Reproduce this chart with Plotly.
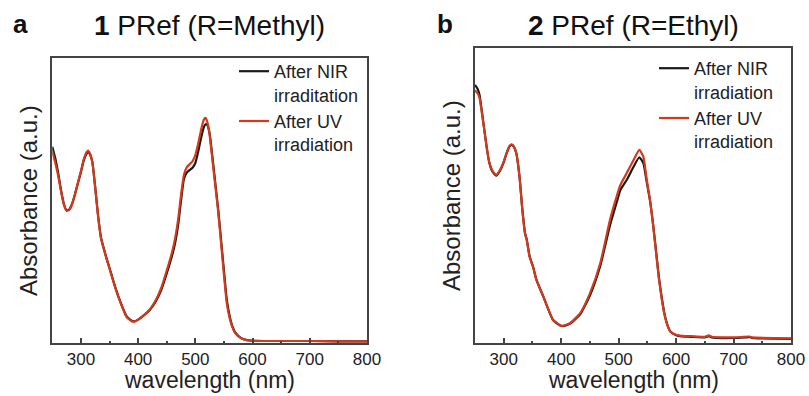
import plotly.graph_objects as go

# ---------------- data ----------------
wl_a = [250, 255, 260, 265, 270, 275, 280, 285, 290, 295, 300, 305, 310, 313, 316, 320,
        325, 330, 335, 340, 345, 350, 360, 370, 380, 390, 395, 400, 410, 420, 430, 440,
        450, 460, 465, 470, 475, 480, 485, 490, 495, 500, 505, 510, 515, 518, 521, 525,
        530, 535, 540, 545, 550, 555, 560, 565, 570, 580, 590, 600, 650, 700, 750, 800]
uv_a = [0.672, 0.635, 0.590, 0.535, 0.488, 0.464, 0.468, 0.490, 0.525, 0.565, 0.603, 0.645,
        0.670, 0.675, 0.665, 0.635, 0.545, 0.445, 0.370, 0.330, 0.295, 0.262, 0.195, 0.138,
        0.092, 0.076, 0.077, 0.083, 0.099, 0.118, 0.148, 0.192, 0.255, 0.325, 0.372, 0.435,
        0.520, 0.590, 0.617, 0.628, 0.638, 0.660, 0.700, 0.748, 0.785, 0.790, 0.775, 0.730,
        0.640, 0.550, 0.460, 0.350, 0.240, 0.140, 0.088, 0.055, 0.035, 0.018, 0.011, 0.009,
        0.008, 0.008, 0.007, 0.007]
nir_a = [0.689, 0.650, 0.600, 0.540, 0.490, 0.466, 0.470, 0.491, 0.525, 0.563, 0.600, 0.641,
         0.665, 0.670, 0.662, 0.635, 0.547, 0.448, 0.372, 0.332, 0.297, 0.264, 0.197, 0.140,
         0.094, 0.078, 0.078, 0.083, 0.098, 0.116, 0.144, 0.185, 0.245, 0.312, 0.355, 0.415,
         0.500, 0.575, 0.598, 0.607, 0.615, 0.632, 0.672, 0.720, 0.758, 0.768, 0.765, 0.735,
         0.650, 0.560, 0.468, 0.362, 0.255, 0.152, 0.095, 0.058, 0.037, 0.018, 0.011, 0.009,
         0.008, 0.008, 0.007, 0.007]

wl_b = [250, 255, 258, 262, 267, 271, 275, 280, 287, 293, 299, 305, 310, 314, 318, 322,
        325, 328, 332, 337, 340, 345, 351, 357, 369, 386, 401, 415, 433, 450, 468, 485,
        497, 503, 514, 526, 536, 543, 549, 555, 560, 565, 570, 575, 580, 585, 590, 600,
        610, 625, 650, 657, 662, 700, 728, 732, 740, 800]
uv_b = [0.857, 0.845, 0.830, 0.780, 0.711, 0.655, 0.612, 0.585, 0.570, 0.585, 0.610, 0.645,
        0.668, 0.674, 0.665, 0.643, 0.605, 0.553, 0.460, 0.372, 0.350, 0.293, 0.259, 0.214,
        0.158, 0.079, 0.059, 0.068, 0.102, 0.169, 0.271, 0.418, 0.500, 0.536, 0.576, 0.621,
        0.655, 0.632, 0.553, 0.480, 0.400, 0.310, 0.220, 0.150, 0.095, 0.060, 0.040, 0.029,
        0.025, 0.024, 0.022, 0.027, 0.022, 0.020, 0.023, 0.020, 0.019, 0.017]
nir_b = [0.875, 0.860, 0.840, 0.785, 0.712, 0.655, 0.611, 0.583, 0.568, 0.583, 0.608, 0.643,
         0.666, 0.672, 0.664, 0.643, 0.606, 0.555, 0.462, 0.374, 0.352, 0.295, 0.260, 0.215,
         0.158, 0.078, 0.058, 0.066, 0.098, 0.162, 0.262, 0.400, 0.480, 0.519, 0.553, 0.598,
         0.630, 0.610, 0.545, 0.478, 0.402, 0.315, 0.225, 0.155, 0.098, 0.062, 0.040, 0.027,
         0.023, 0.022, 0.020, 0.024, 0.020, 0.018, 0.021, 0.018, 0.017, 0.015]

x_ticks = [300, 400, 500, 600, 700, 800]
names_a = ["After NIR<br>irraditation", "After UV<br>irradiation"]
names_b = ["After NIR<br>irradiation", "After UV<br>irradiation"]
titles = ["<b>1</b> PRef (R=Methyl)", "<b>2</b> PRef (R=Ethyl)"]
panel_labels = ["a", "b"]
x_title = "wavelength (nm)"
y_title = "Absorbance (a.u.)"

# ---------------- styles ----------------
FONT = "Liberation Sans, Arial, sans-serif"
BLACK = "#1a1a1a"
RED = "#d4391b"
AXC = "#444444"
W, H = 809, 396

fig = go.Figure()

def add_panel(wl, nir, uv, names, xa, ya, leg):
    fig.add_trace(go.Scatter(x=wl, y=nir, mode="lines", name=names[0],
                             line=dict(color=BLACK, width=2.2, shape="spline", smoothing=0.5),
                             xaxis=xa, yaxis=ya, legend=leg))
    fig.add_trace(go.Scatter(x=wl, y=uv, mode="lines", name=names[1],
                             line=dict(color=RED, width=2.2, shape="spline", smoothing=0.5),
                             xaxis=xa, yaxis=ya, legend=leg))

add_panel(wl_a, nir_a, uv_a, names_a, "x", "y", "legend")
add_panel(wl_b, nir_b, uv_b, names_b, "x2", "y2", "legend2")

def xax(domain, anchor):
    return dict(domain=domain, anchor=anchor, range=[250, 800], tickvals=x_ticks,
                ticks="inside", ticklen=6, tickwidth=1.5, tickcolor=AXC,
                minor=dict(tickvals=[350, 450, 550, 650, 750], ticks="inside", ticklen=3,
                           tickwidth=1.5, tickcolor=AXC),
                showline=True, linecolor=AXC, linewidth=1.5, mirror=True,
                showgrid=False, zeroline=False, automargin=False,
                tickfont=dict(family=FONT, size=17, color="#222"))

def yax(domain, anchor):
    return dict(domain=domain, anchor=anchor, range=[0, 1], showticklabels=False,
                ticks="", showline=True, linecolor=AXC, linewidth=1.5, mirror=True,
                showgrid=False, zeroline=False, automargin=False,
                title=dict(text=y_title, font=dict(family=FONT, size=24, color="#222"),
                           standoff=6))

def legend_at(xpx, ypx):
    return dict(x=xpx / W, y=(H - ypx) / H, xanchor="left", yanchor="top", valign="top",
                bgcolor="rgba(0,0,0,0)", font=dict(family=FONT, size=18, color="#222"),
                tracegroupgap=0, itemwidth=30)

ybot = (H - 343.3) / H
fig.update_layout(
    width=W, height=H, autosize=False,
    margin=dict(l=0, r=0, t=0, b=0, pad=0, autoexpand=False),
    paper_bgcolor="white", plot_bgcolor="white",
    xaxis=xax([52.3 / W, 367 / W], "y"),
    yaxis=yax([ybot, (H - 58) / H], "x"),
    xaxis2=xax([475 / W, 791 / W], "y2"),
    yaxis2=yax([ybot, (H - 48) / H], "x2"),
    legend=legend_at(234, 53),
    legend2=legend_at(654, 50),
    showlegend=True,
)

# titles, panel letters and x-axis titles
for t, lab, xc, lx in [(titles[0], panel_labels[0], 209.5, 20), (titles[1], panel_labels[1], 633, 445)]:
    fig.add_annotation(text=t, x=xc / W, y=(H - 25) / H, xref="paper", yref="paper",
                       showarrow=False, xanchor="center", yanchor="middle",
                       font=dict(family=FONT, size=28, color="#111"))
    fig.add_annotation(text="<b>" + lab + "</b>", x=lx / W, y=(H - 24) / H, xref="paper",
                       yref="paper", showarrow=False, xanchor="center", yanchor="middle",
                       font=dict(family=FONT, size=26, color="#111"))
    fig.add_annotation(text=x_title, x=xc / W, y=(H - 380) / H, xref="paper", yref="paper",
                       showarrow=False, xanchor="center", yanchor="middle",
                       font=dict(family=FONT, size=23, color="#222"))

post = (
    "document.documentElement.style.margin='0';"
    "document.body.style.margin='0';"
    "document.body.style.overflow='hidden';"
    "document.documentElement.style.overflow='hidden';"
)
fig.write_html("out.html", config={"displayModeBar": False}, post_script=post)
